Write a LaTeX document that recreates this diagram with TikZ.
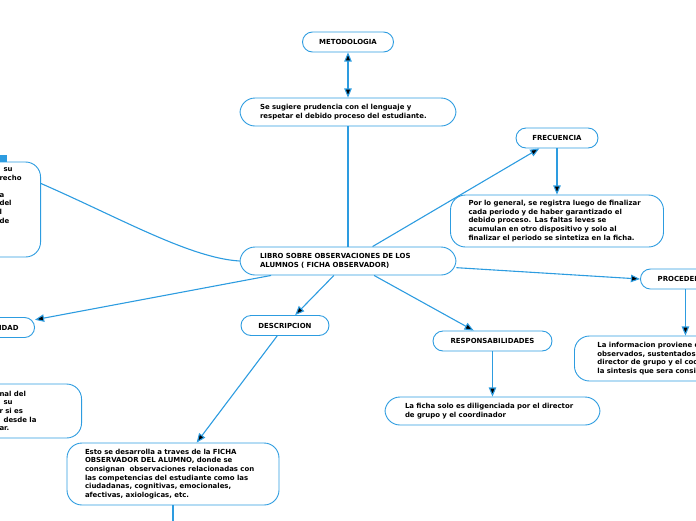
\documentclass[tikz,border=0pt]{standalone}
\usepackage{fontspec}
\setmainfont{DejaVu Sans}
\usepackage{tikz}
\usetikzlibrary{arrows}
\definecolor{mapblue}{RGB}{45,156,224}
\newcommand{\mapfont}{\fontsize{6.95}{8.6}\selectfont\bfseries}

\begin{document}
\begin{tikzpicture}[x=1pt,y=-1pt,
  topic/.style={draw=mapblue, line width=0.9pt, rounded corners=10pt, fill=white,
    font=\mapfont, minimum height=20pt, inner sep=0pt},
  note/.style={topic, rounded corners=15pt, align=left},
  link/.style={draw=mapblue, line width=1.1pt}]
\clip (0,0) rectangle (696,520);

\node[topic, minimum width=91pt]  (M) at (348,42)    {METODOLOGIA};
\node[note, minimum width=216pt, minimum height=28pt, text width=176pt]
                                  (P) at (348,112)   {Se sugiere prudencia con el lenguaje y\\respetar el debido proceso del estudiante.};
\node[note, minimum width=216pt, minimum height=28pt, text width=176pt]
                                  (L) at (348,261)   {LIBRO SOBRE OBSERVACIONES DE LOS\\ALUMNOS ( FICHA OBSERVADOR)};
\node[topic, minimum width=82pt]  (F) at (557,138)   {FRECUENCIA};
\node[note, minimum width=213pt, minimum height=52pt, text width=177pt]
                                  (G) at (557,221)   {Por lo general, se registra luego de finalizar\\cada periodo y de haber garantizado el\\debido proceso. Las faltas leves se\\acumulan en otro dispositivo y solo al\\finalizar el periodo se sintetiza en la ficha.};
\node[topic, anchor=west, minimum width=90pt] (C) at (640,279) {PROCEDENCIA};
\node[note, anchor=west, minimum height=45pt, text width=150pt, inner xsep=23pt]
                                  (I) at (574,358.5) {La informacion proviene d\\observados, sustentados p\\director de grupo y el coo\\la sintesis que sera consi};
\node[topic, minimum width=119pt] (R) at (492.5,341) {RESPONSABILIDADES};
\node[note, minimum width=215pt, minimum height=28pt, text width=175pt]
                                  (H) at (492.5,411) {La ficha solo es diligenciada por el director\\de grupo y el coordinador};
\node[topic, minimum width=88pt]  (D) at (285,325.5) {DESCRIPCION};
\node[note, minimum width=212pt, minimum height=62pt, text width=176pt]
                                  (E) at (173,474)   {Esto se desarrolla a traves de la FICHA\\OBSERVADOR DEL ALUMNO, donde se\\consignan\ \ observaciones relacionadas con\\las competencias del estudiante como las\\ciudadanas, cognitivas, emocionales,\\afectivas, axiologicas, etc.};
\node[topic, anchor=east, text width=50pt, align=right, inner xsep=16pt]
                                  (Q) at (35,327.5)  {IDAD};
\node[note, anchor=east, minimum height=54pt, text width=62pt, inner xsep=20pt]
                                  (N) at (82,411)    {nal del\\\hspace*{4pt}su\\r si es\\\hspace*{4pt}desde la\\ar.};
\node[note, anchor=east, minimum height=95pt, text width=22pt, inner xsep=19pt]
                                  (K) at (41,209.5)  {\hspace*{4pt}su\\recho\\\strut\\a\\del\\l\\de\\\strut\\\strut\\\strut};
\coordinate (Eend) at (173,522);
\fill[mapblue] (0,155) rectangle (7,162);

\path[link, <->, >=triangle 45] (M) edge (P);
\path[link, ->, >=triangle 45]
    (L) edge (F)
    (F) edge (G)
    (L) edge (C.west)
    (C) edge (C |- I.north)
    (L) edge (R)
    (R) edge (H)
    (L) edge (D)
    (D) edge (E)
    (L) edge (Q);
\path[link]
    (P) edge (L)
    (E) edge (Eend);
\draw[link] ([yshift=26pt]K.east) .. controls (120,218) and (190,258) .. (L.west);

\end{tikzpicture}
\end{document}
